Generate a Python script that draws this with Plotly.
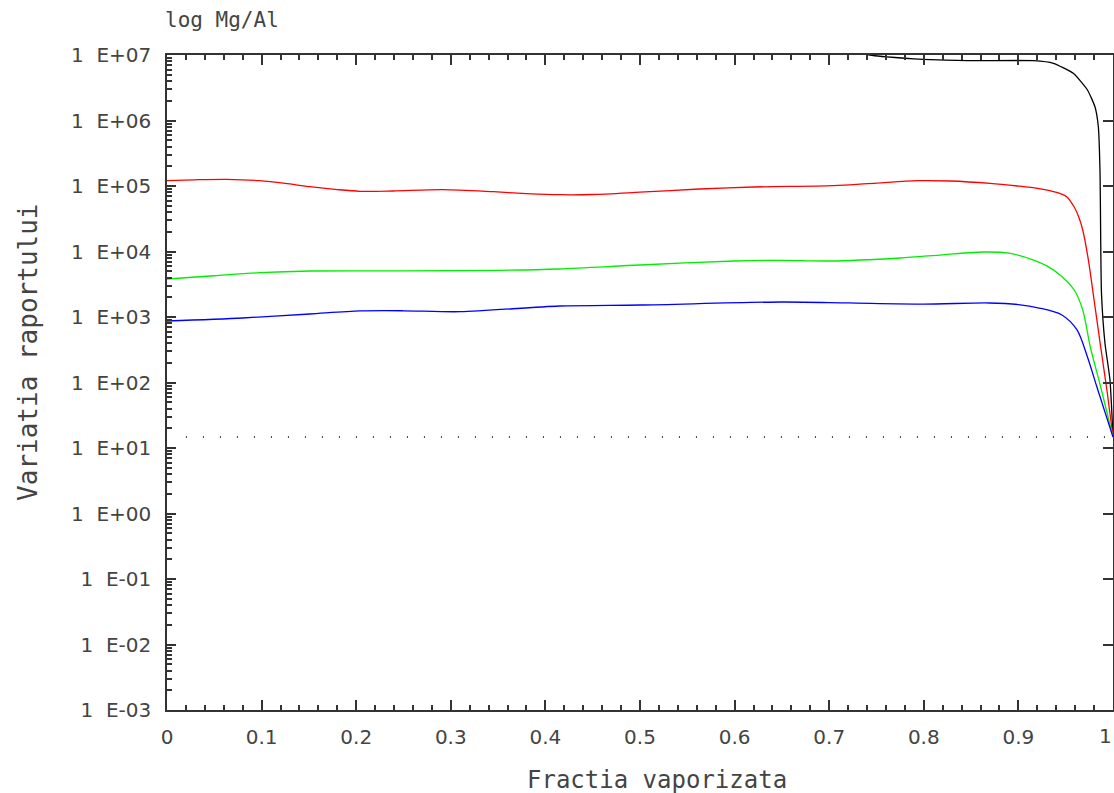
import plotly.graph_objects as go

# ---- data ----
red_x = [0.000, 0.030, 0.063, 0.098, 0.125, 0.151, 0.180, 0.204, 0.239, 0.292, 0.345, 0.380,
         0.415, 0.450, 0.500, 0.563, 0.620, 0.704, 0.750, 0.793, 0.828, 0.870, 0.899, 0.920,
         0.933, 0.945, 0.951, 0.959, 0.964, 0.968, 0.974, 0.980, 0.987, 0.994, 1.000]
red_log = [5.081, 5.095, 5.102, 5.081, 5.040, 4.989, 4.945, 4.919, 4.924, 4.944, 4.913, 4.885,
           4.867, 4.870, 4.905, 4.954, 4.985, 5.005, 5.045, 5.081, 5.076, 5.040, 5.000, 4.965,
           4.928, 4.880, 4.837, 4.679, 4.520, 4.328, 3.870, 3.260, 2.540, 1.840, 1.168]

green_x = [0.000, 0.050, 0.098, 0.151, 0.250, 0.350, 0.415, 0.500, 0.600, 0.650, 0.700, 0.775,
           0.820, 0.863, 0.890, 0.916, 0.930, 0.944, 0.959, 0.968, 0.976, 0.987, 1.000]
green_log = [3.580, 3.630, 3.676, 3.702, 3.705, 3.712, 3.733, 3.794, 3.855, 3.865, 3.855, 3.901,
             3.950, 3.992, 3.975, 3.870, 3.780, 3.641, 3.412, 3.107, 2.542, 1.931, 1.168]

blue_x = [0.000, 0.080, 0.151, 0.204, 0.250, 0.310, 0.415, 0.500, 0.650, 0.720, 0.800, 0.869,
          0.900, 0.922, 0.946, 0.962, 0.973, 0.983, 1.000]
blue_log = [2.939, 2.985, 3.046, 3.092, 3.095, 3.081, 3.168, 3.183, 3.229, 3.215, 3.198, 3.214,
            3.190, 3.137, 3.031, 2.802, 2.389, 1.931, 1.168]

black_x = [0.700, 0.743, 0.780, 0.799, 0.846, 0.916, 0.937, 0.958, 0.973, 0.981, 0.9845,
           0.9863, 0.9870, 0.9878, 0.9915, 0.9968, 1.000]
black_log = [7.150, 7.000, 6.950, 6.934, 6.913, 6.913, 6.873, 6.720, 6.466, 6.206, 5.905,
             5.200, 4.176, 3.370, 2.600, 2.040, 1.168]

ref_x = [0.02, 1.0]
ref_val = 14.7

x_tick_vals = [0, 0.1, 0.2, 0.3, 0.4, 0.5, 0.6, 0.7, 0.8, 0.9, 1.0]
x_tick_text = ["0", "0.1", "0.2", "0.3", "0.4", "0.5", "0.6", "0.7", "0.8", "0.9", "1"]
y_exponents = [-3, -2, -1, 0, 1, 2, 3, 4, 5, 6, 7]
y_tick_text = ["1\u00a0\u00a0E-03", "1\u00a0\u00a0E-02", "1\u00a0\u00a0E-01", "1\u00a0\u00a0E+00",
               "1\u00a0\u00a0E+01", "1\u00a0\u00a0E+02", "1\u00a0\u00a0E+03", "1\u00a0\u00a0E+04",
               "1\u00a0\u00a0E+05", "1\u00a0\u00a0E+06", "1\u00a0\u00a0E+07"]

x_title = "Fractia vaporizata"
y_title = "Variatia raportului"
top_title = "log Mg/Al"

# ---- figure ----
AX = "#333333"
TXT = "#444444"
MONO = "DejaVu Sans Mono"
SANS = "DejaVu Sans"

fig = go.Figure()

def add_line(xs, logs, color, smooth):
    fig.add_trace(go.Scatter(x=xs, y=[10 ** v for v in logs], mode="lines",
                             line=dict(color=color, width=1.3, shape="spline",
                                       smoothing=smooth),
                             showlegend=False, hoverinfo="skip"))

add_line(black_x, black_log, "#000000", 0.5)
add_line(red_x, red_log, "#ff0000", 0.8)
add_line(green_x, green_log, "#00ee00", 0.8)
add_line(blue_x, blue_log, "#0000ff", 0.8)

fig.add_trace(go.Scatter(x=ref_x, y=[ref_val, ref_val], mode="lines", yaxis="y2",
                         line=dict(color="#000000", width=1.5, dash="1px,16px"),
                         showlegend=False, hoverinfo="skip"))

y_vals = [10.0 ** e for e in y_exponents]
minor_vals = [m * 10.0 ** e for e in y_exponents[:-1] for m in range(2, 10)]

# the last x tick label sits at the page edge: draw it as a right-anchored annotation
shown_x_text = x_tick_text[:-1] + [""]

fig.update_layout(
    width=1114, height=793,
    margin=dict(l=167, r=1, t=55, b=83, autoexpand=False),
    paper_bgcolor="white", plot_bgcolor="white",
    xaxis=dict(range=[0, 1], tickmode="array", tickvals=x_tick_vals, ticktext=shown_x_text,
               ticks="inside", ticklen=10, tickwidth=1.5, tickcolor=AX,
               showline=True, linecolor=AX, linewidth=1.5, mirror="ticks",
               showgrid=False, zeroline=False, automargin=False,
               tickfont=dict(family=SANS, size=20, color=TXT), ticklabelstandoff=8,
               minor=dict(tickmode="linear", tick0=0, dtick=0.02, ticks="inside",
                          ticklen=5, tickwidth=1.5, tickcolor=AX, showgrid=False)),
    yaxis=dict(type="log", range=[-3, 7], tickmode="array", tickvals=y_vals,
               ticktext=y_tick_text, ticks="inside", ticklen=9, tickwidth=1.5,
               tickcolor=AX, showline=True, linecolor=AX, linewidth=1.5, mirror=True,
               showgrid=False, zeroline=False, automargin=False,
               tickfont=dict(family=SANS, size=20, color=TXT), ticklabelstandoff=10,
               minor=dict(tickmode="array", tickvals=minor_vals, ticks="inside",
                          ticklen=5, tickwidth=1.5, tickcolor=AX, showgrid=False)),
    yaxis2=dict(type="log", range=[-3, 7], overlaying="y", side="right",
                tickmode="array", tickvals=y_vals, ticks="inside", ticklen=10,
                tickwidth=1.5, tickcolor=AX, showticklabels=False, showline=False,
                showgrid=False, zeroline=False, automargin=False),
    annotations=[
        dict(text=x_tick_text[-1], xref="x", yref="paper", x=x_tick_vals[-1], y=-0.0397,
             xanchor="right", yanchor="middle", showarrow=False, xshift=1,
             font=dict(family=SANS, size=20, color=TXT)),
        dict(text=top_title, xref="paper", yref="paper", x=-0.0042, y=1.0534,
             xanchor="left", yanchor="middle", showarrow=False,
             font=dict(family=MONO, size=21, color=TXT)),
        dict(text=y_title, xref="paper", yref="paper", x=-0.147, y=0.5466,
             xanchor="center", yanchor="middle", textangle=-90, showarrow=False,
             font=dict(family=MONO, size=26, color=TXT)),
        dict(text=x_title, xref="paper", yref="paper", x=0.518, y=-0.107,
             xanchor="center", yanchor="middle", showarrow=False,
             font=dict(family=MONO, size=24, color=TXT)),
    ],
)

fig.write_html("out.html")
